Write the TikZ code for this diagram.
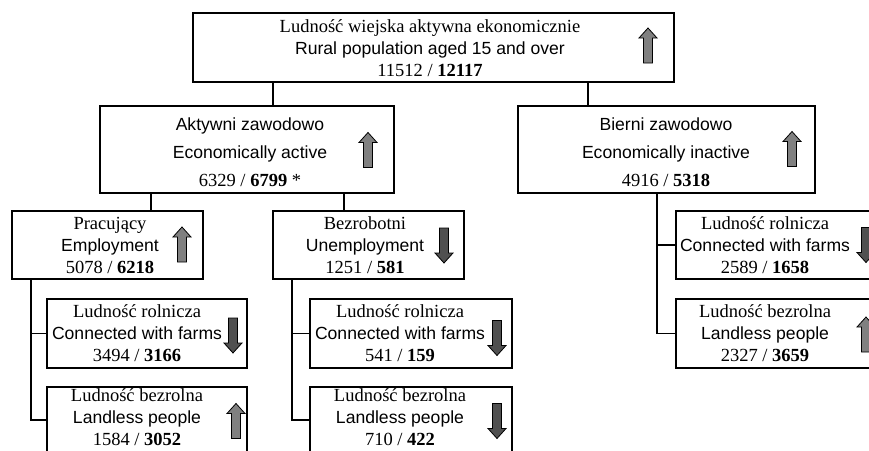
\documentclass[tikz,border=0pt]{standalone}
\usepackage{fontspec}
\setmainfont{Liberation Serif}
\setsansfont{Liberation Sans}[Scale=0.95]
\definecolor{upgray}{RGB}{128,128,128}
\definecolor{dngray}{RGB}{80,80,80}

\begin{document}
\begin{tikzpicture}[x=1pt, y=-1pt,
    box/.style={draw, line width=1.1pt, inner sep=0pt},
    txt/.style={align=center, inner sep=0pt, font=\fontsize{18.5}{22}\selectfont},
    roomy/.style={font=\fontsize{18.5}{28}\selectfont},
    link/.style={line width=1.1pt},
    uparr/.pic={\draw[line width=0.8pt, fill=upgray]
      (-4.5,17.5) -- (-4.5,-7.5) -- (-9,-7.5) -- (0,-17.5) -- (9,-7.5) -- (4.5,-7.5) -- (4.5,17.5) -- cycle;},
    dnarr/.pic={\draw[line width=0.8pt, fill=dngray]
      (-4.5,-17.5) -- (-4.5,7.5) -- (-9,7.5) -- (0,17.5) -- (9,7.5) -- (4.5,7.5) -- (4.5,-17.5) -- cycle;}]

  \useasboundingbox (0,0) rectangle (869,450);
  \clip (0,0) rectangle (869,450);

  % level 0
  \node[box, minimum width=481pt, minimum height=69pt] (top) at (433.5,47.5) {};
  \node[txt] (topT) at (430,48) {Ludność wiejska aktywna ekonomicznie\\
    {\sffamily Rural population aged 15 and over}\\11512 / \textbf{12117}};
  \pic at (648,45.5) {uparr};

  % level 1
  \node[box, minimum width=294pt, minimum height=87pt] (akt) at (247,149.5) {};
  \node[txt, roomy] (aktT) at (250,152) {{\sffamily Aktywni zawodowo}\\
    {\sffamily Economically active}\\6329 / \textbf{6799} *};
  \pic at (368,150) {uparr};

  \node[box, minimum width=297pt, minimum height=87pt] (bier) at (666.5,149.5) {};
  \node[txt, roomy] (bierT) at (666,152) {{\sffamily Bierni zawodowo}\\
    {\sffamily Economically inactive}\\4916 / \textbf{5318}};
  \pic at (792,149) {uparr};

  % level 2
  \node[box, minimum width=191pt, minimum height=68pt] (prac) at (107.5,245) {};
  \node[txt] (pracT) at (110,245) {Pracujący\\{\sffamily Employment}\\5078 / \textbf{6218}};
  \pic at (182,244.5) {uparr};

  \node[box, minimum width=191pt, minimum height=68pt] (bezr) at (368.5,245) {};
  \node[txt] (bezrT) at (365,245) {Bezrobotni\\{\sffamily Unemployment}\\1251 / \textbf{581}};
  \pic at (444,245.5) {dnarr};

  % level 3
  \node[box, minimum width=200pt, minimum height=69pt] (pracRol) at (147,333.5) {};
  \node[txt] (pracRolT) at (137,333) {Ludność rolnicza\\{\sffamily Connected with farms}\\3494 / \textbf{3166}};
  \pic at (233,335.5) {dnarr};

  \node[box, minimum width=200pt, minimum height=66pt] (pracBez) at (147,420) {};
  \node[txt] (pracBezT) at (137,417.5) {Ludność bezrolna\\{\sffamily Landless people}\\1584 / \textbf{3052}};
  \pic at (236,421) {uparr};

  \node[box, minimum width=202pt, minimum height=69pt] (bezrRol) at (411,333.5) {};
  \node[txt] (bezrRolT) at (400,333) {Ludność rolnicza\\{\sffamily Connected with farms}\\541 / \textbf{159}};
  \pic at (497,338) {dnarr};

  \node[box, minimum width=202pt, minimum height=66pt] (bezrBez) at (411,420) {};
  \node[txt] (bezrBezT) at (400,417.5) {Ludność bezrolna\\{\sffamily Landless people}\\710 / \textbf{422}};
  \pic at (497,421) {dnarr};

  \node[box, minimum width=204pt, minimum height=68pt] (bierRol) at (778,245) {};
  \node[txt] (bierRolT) at (765,245) {Ludność rolnicza\\{\sffamily Connected with farms}\\2589 / \textbf{1658}};
  \pic at (866,245) {dnarr};

  \node[box, minimum width=204pt, minimum height=69pt] (bierBez) at (778,333.5) {};
  \node[txt] (bierBezT) at (765,333) {Ludność bezrolna\\{\sffamily Landless people}\\2327 / \textbf{3659}};
  \pic at (866,334.5) {uparr};

  % connectors
  \draw[link] ([xshift=26pt]akt.north) -- ([xshift=26pt]akt.north |- top.south);
  \draw[link] ([xshift=-78.5pt]bier.north) -- ([xshift=-78.5pt]bier.north |- top.south);
  \draw[link] ([xshift=43.5pt]prac.north) -- ([xshift=43.5pt]prac.north |- akt.south);
  \draw[link] ([xshift=-24.5pt]bezr.north) -- ([xshift=-24.5pt]bezr.north |- akt.south);
  \draw[link] ([xshift=-9.5pt]bier.south) |- (bierRol.west);
  \draw[link] ([xshift=-9.5pt]bier.south) |- (bierBez.west);
  \draw[link] ([xshift=-76.5pt]prac.south) |- (pracRol.west);
  \draw[link] ([xshift=-76.5pt]prac.south) |- (pracBez.west);
  \draw[link] ([xshift=-76.5pt]bezr.south) |- (bezrRol.west);
  \draw[link] ([xshift=-76.5pt]bezr.south) |- (bezrBez.west);
\end{tikzpicture}
\end{document}
